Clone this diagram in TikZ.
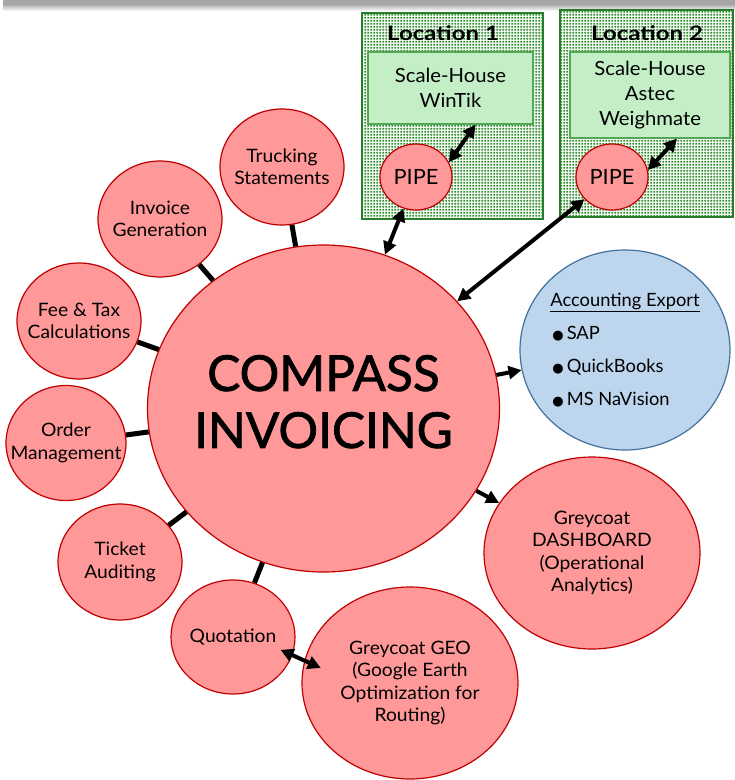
\documentclass[tikz,border=0pt]{standalone}
\usepackage{fontspec}
\setmainfont{Lato}[FakeStretch=1.04]
\newfontfamily\titlefont{Lato}[FakeBold=1.6]
\newfontfamily\labelfont{Lato Bold}[FakeStretch=1.2]
\newfontfamily\plainfont{Lato}
\newfontfamily\symfont{DejaVu Sans}
\usetikzlibrary{shapes.geometric,arrows.meta,patterns}

% square green dots used for the site panels
\pgfdeclarepatternformonly{sitedots}{\pgfqpoint{0pt}{0pt}}{\pgfqpoint{3.2pt}{3.2pt}}{\pgfqpoint{3.2pt}{3.2pt}}%
  {\pgfpathrectangle{\pgfqpoint{0.6pt}{0.6pt}}{\pgfqpoint{2pt}{2pt}}\pgfusepath{fill}}

\definecolor{bubblefill}{RGB}{255,153,153}
\definecolor{bubbleline}{RGB}{192,0,0}
\definecolor{acctfill}{RGB}{189,214,238}
\definecolor{acctline}{RGB}{65,113,156}
\definecolor{shfill}{RGB}{196,238,198}
\definecolor{shline}{RGB}{84,165,84}
\definecolor{dotgreen}{RGB}{44,140,44}
\definecolor{siteline}{RGB}{40,125,40}

\tikzset{
  % negative inner sep keeps every ellipse at its minimum size
  bubble/.style={ellipse, draw=bubbleline, fill=bubblefill, line width=1.2pt,
    inner sep=-40pt, align=center, font=\fontsize{18.5}{22.5}\selectfont},
  small/.style={minimum width=124pt, minimum height=116pt},
  big/.style={minimum width=216pt, minimum height=192pt},
  shbox/.style={draw=shline, fill=shfill, line width=1.2pt, inner sep=0pt,
    align=center, font=\fontsize{19.5}{25}\selectfont},
  site/.style={draw=siteline, line width=1.8pt, pattern=sitedots, pattern color=dotgreen},
  sitelabel/.style={font=\labelfont\fontsize{20}{24}\selectfont},
  link/.style={line width=5pt},
  tip/.tip={Triangle[length=13pt,width=13pt]},
  dbl/.style={line width=4pt, tip-tip},
  one/.style={line width=4pt, -tip},
}

\begin{document}
\begin{tikzpicture}[x=1pt,y=-1pt]
\fill[white] (0,0) rectangle (735,780);
\useasboundingbox (0,0) rectangle (735,780);

% grey bar along the top edge
\fill[gray!70] (3,0) rectangle (735,4);
\shade[top color=gray!70, bottom color=white] (3,4) rectangle (735,11);

% site panels
\draw[site] (362,13) rectangle (543,219);
\draw[site] (560,10) rectangle (733,217);
\node[sitelabel] (loc1) at (443,33) {Location 1};
\node[sitelabel] (loc2) at (647,33) {Location 2};
\node[shbox, minimum width=165pt, minimum height=72pt] (sh1) at (450.5,88) {Scale-House\\WinTik};
\node[shbox, minimum width=160pt, minimum height=86pt] (sh2) at (650,95) {Scale-House\\Astec\\Weighmate};
\node[bubble, minimum width=72pt, minimum height=66pt, inner sep=-20pt, font=\fontsize{21}{24}\selectfont] (pipe1) at (416,177) {PIPE};
\node[bubble, minimum width=72pt, minimum height=66pt, inner sep=-20pt, font=\fontsize{21}{24}\selectfont] (pipe2) at (612,177) {PIPE};

% central module
\node[bubble, minimum width=352pt, minimum height=327pt, font=\titlefont\fontsize{49.5}{57}\selectfont] (main) at (323.5,408.5)
  {COMPASS\\INVOICING\rule[-14pt]{0pt}{14pt}};

% feature bubbles
\node[bubble, small] (truck) at (282,167) {Trucking\\Statements};
\node[bubble, small] (inv) at (160,219) {Invoice\\Generation};
\node[bubble, small] (fee) at (79,321) {Fee \& Tax\\Calculations};
\node[bubble, small, minimum width=120pt, minimum height=115pt] (order) at (66,443) {Order\\Management};
\node[bubble, small] (ticket) at (120,562) {Ticket\\Auditing};
\node[bubble, small, minimum height=114pt] (quot) at (233,637) {Quotation};
\node[bubble, big] (geo) at (410,683) {Greycoat GEO\\(Google Earth\\Optimization for\\Routing)};
\node[bubble, big] (dash) at (592,553) {Greycoat\\DASHBOARD\\(Operational\\Analytics)};

% accounting export
\node[ellipse, draw=acctline, fill=acctfill, line width=1.2pt, inner sep=-40pt,
  minimum width=210pt, minimum height=200pt, align=left,
  font=\plainfont\fontsize{18.3}{33}\selectfont] (acct) at (625,350)
  {\underline{Accounting Export}\\
   \hspace{2pt}{\symfont\fontsize{13}{13}\selectfont ●}\hspace{3pt}SAP\\
   \hspace{2pt}{\symfont\fontsize{13}{13}\selectfont ●}\hspace{3pt}QuickBooks\\
   \hspace{2pt}{\symfont\fontsize{13}{13}\selectfont ●}\hspace{3pt}MS NaVision};

% plain links
\draw[link] (truck) -- (main);
\draw[link] (inv) -- (main);
\draw[link] (fee) -- (main);
\draw[link] (order) -- (main);
\draw[link] (ticket) -- (main);
\draw[link] (quot) -- (main);

% data flows
\draw[dbl] (main) -- (pipe1);
\draw[dbl] (main) -- (pipe2);
\draw[dbl] (pipe1.24) -- ([xshift=25pt]sh1.south);
\draw[dbl] (pipe2.11) -- ([xshift=27pt]sh2.south);
\draw[one] (main) -- (acct);
\draw[one] (main) -- (dash);
\draw[dbl, shorten <=-13pt, shorten >=-18pt] (quot.-17) -- (geo.168);
\end{tikzpicture}
\end{document}
